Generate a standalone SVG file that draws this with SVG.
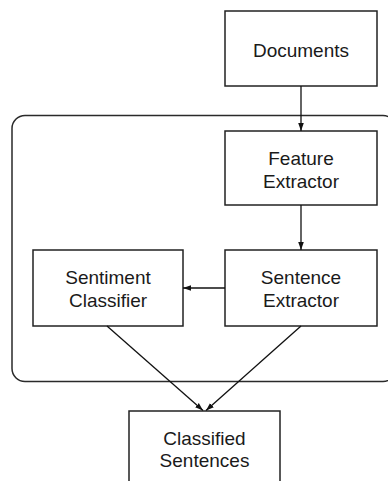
<svg xmlns="http://www.w3.org/2000/svg" width="388" height="481" viewBox="0 0 388 481">
  <style>
    .box { fill: #ffffff; stroke: #222222; stroke-width: 1.5; }
    .group { fill: none; stroke: #2a2a2a; stroke-width: 1.5; }
    .label { font-family: "Liberation Sans", Arial, sans-serif; font-size: 19px; fill: #1a1a1a; text-anchor: middle; }
    .edge { fill: none; stroke: #111111; stroke-width: 1.3; marker-end: url(#arrow); }
  </style>
  <defs>
    <marker id="arrow" viewBox="0 0 10 10" refX="10" refY="5" markerWidth="8" markerHeight="8" markerUnits="userSpaceOnUse" orient="auto">
      <path d="M0,1.5 L10,5 L0,8.5 Z" fill="#111111"/>
    </marker>
  </defs>

  <rect width="388" height="481" fill="#ffffff"/>

  <!-- processing stage enclosure -->
  <rect class="group" x="12" y="115.5" width="384" height="266" rx="13" ry="13"/>

  <g id="documents">
    <rect class="box" x="225" y="11" width="152" height="75"/>
    <text class="label" x="301" y="56.5">Documents</text>
  </g>

  <g id="feature-extractor">
    <rect class="box" x="225" y="131" width="152" height="74"/>
    <text class="label" x="301" y="165">Feature</text>
    <text class="label" x="301" y="187.5">Extractor</text>
  </g>

  <g id="sentence-extractor">
    <rect class="box" x="225" y="250" width="152" height="76"/>
    <text class="label" x="301" y="284">Sentence</text>
    <text class="label" x="301" y="306.5">Extractor</text>
  </g>

  <g id="sentiment-classifier">
    <rect class="box" x="33" y="250" width="150" height="76"/>
    <text class="label" x="108" y="284">Sentiment</text>
    <text class="label" x="108" y="306.5">Classifier</text>
  </g>

  <g id="classified-sentences">
    <rect class="box" x="129" y="411" width="151" height="80"/>
    <text class="label" x="204.5" y="445">Classified</text>
    <text class="label" x="204.5" y="467">Sentences</text>
  </g>

  <g id="connectors">
    <line class="edge" x1="301" y1="86" x2="301" y2="131"/>
    <line class="edge" x1="301" y1="205" x2="301" y2="250"/>
    <line class="edge" x1="225" y1="288" x2="183" y2="288"/>
    <line class="edge" x1="107" y1="326" x2="203" y2="410.5"/>
    <line class="edge" x1="301" y1="326" x2="206" y2="410.5"/>
  </g>
</svg>
